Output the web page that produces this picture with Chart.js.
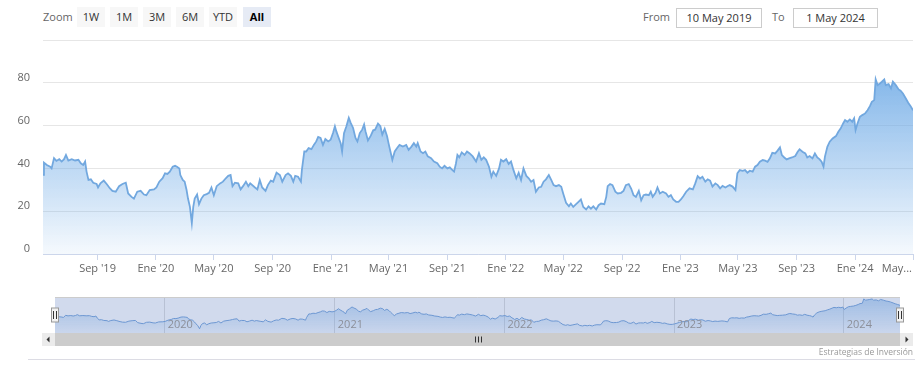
<!DOCTYPE html>
<html>
<head>
<meta charset="utf-8">
<script src="https://cdn.jsdelivr.net/npm/chart.js@4.4.1/dist/chart.umd.min.js"></script>
<style>
  body { margin: 0; width: 920px; height: 375px; background: #fff; position: relative; overflow: hidden; font-family: "Open Sans", sans-serif; }
  .txt { position: absolute; font-size: 11px; color: #666; line-height: 20px; top: 7px; }
  .btn { position: absolute; top: 7px; width: 28px; height: 20px; line-height: 20px; text-align: center; background: #f7f7f7; color: #333; font-size: 11px; }
  .btn.on { background: #e6ebf5; color: #000; font-weight: bold; }
  .box { position: absolute; top: 8px; height: 18px; line-height: 18px; border: 1px solid #ccc; background: #fff; color: #333; font-size: 11px; text-align: center; }
  #main { position: absolute; left: 0; top: 0; }
  #nav { position: absolute; left: 42px; top: 290px; }
  #credits { position: absolute; right: 7px; top: 346px; font-size: 8.5px; color: #999; }
  #rule { position: absolute; left: 28px; top: 359px; width: 887px; height: 1px; background: #dcdce4; }
</style>
</head>
<body>
<div class="txt" style="left:43px">Zoom</div>
<div class="btn" style="left:77px">1W</div>
<div class="btn" style="left:110px">1M</div>
<div class="btn" style="left:143px">3M</div>
<div class="btn" style="left:176px">6M</div>
<div class="btn" style="left:209px">YTD</div>
<div class="btn on" style="left:243px">All</div>
<div class="txt" style="left:643px">From</div>
<div class="box" style="left:676px;width:84px">10 May 2019</div>
<div class="txt" style="left:772px">To</div>
<div class="box" style="left:793px;width:83px">1 May 2024</div>

<canvas id="main" width="920" height="290"></canvas>
<canvas id="nav" width="871" height="57"></canvas>
<div id="credits">Estrategias de Inversión</div>
<div id="rule"></div>

<script>
// days counted from the first close, 10 May 2019
const startDate = '2019-05-10';

const dayOffsets = [
  0, 2, 8, 15, 18, 23, 28, 34, 39, 44,
  48, 53, 60, 67, 74, 79, 84, 88, 91, 95,
  100, 105, 112, 115, 120, 127, 133, 140, 145, 152,
  159, 166, 173, 178, 185, 190, 197, 204, 211, 216,
  223, 232, 237, 243, 250, 255, 260, 265, 271, 276,
  280, 285, 287, 292, 296, 300, 303, 307, 311, 314,
  317, 322, 326, 331, 336, 342, 347, 352, 357, 363,
  370, 376, 382, 387, 392, 396, 401, 408, 413, 418,
  424, 429, 433,
  443, 448, 453, 458, 465, 470, 476, 481, 488, 495,
  500, 507, 512, 518, 523, 527, 533, 539, 541, 546,
  550, 555, 561, 566, 571, 575, 580, 585, 590, 596,
  601, 606, 610, 613, 618, 622, 625, 629, 634, 639,
  643, 648, 653, 657, 662, 667, 671, 674, 679, 685,
  690, 694, 700, 705, 709, 714, 719, 722, 726, 730,
  735, 740, 745, 752, 759, 764, 770, 775, 780, 783,
  789, 794, 799, 804, 811, 817, 824, 829, 834, 839,
  845, 850, 854, 859, 863, 866, 870, 875, 881, 886,
  891, 898, 905, 911, 916, 921, 926, 932, 937, 941,
  947, 953, 957, 962, 968, 973, 978, 983, 989, 994,
  999, 1004, 1010, 1015, 1020, 1025, 1030, 1036, 1041, 1046,
  1051, 1057, 1062, 1067, 1072, 1078, 1083, 1087, 1093, 1099,
  1103, 1108, 1114, 1119, 1124, 1129, 1135, 1140, 1145, 1150,
  1156, 1161, 1166, 1173, 1177, 1180, 1185, 1190, 1196, 1201,
  1208, 1213, 1218, 1224, 1229, 1234, 1239, 1245, 1250, 1255,
  1260, 1266, 1270, 1274, 1280, 1284, 1289, 1295, 1302, 1307,
  1312, 1317, 1323, 1328, 1333, 1338, 1344,
  1351, 1358, 1363, 1368, 1373, 1378, 1384, 1389, 1394, 1399,
  1405, 1410, 1415, 1420, 1426, 1431, 1435, 1441, 1447, 1451,
  1456, 1462, 1467, 1472, 1477, 1483, 1488, 1493, 1498, 1504,
  1509, 1514, 1519, 1524, 1530, 1535, 1540, 1544, 1549, 1554,
  1559, 1565, 1572, 1577, 1581, 1587, 1593, 1597, 1602, 1608,
  1613, 1618, 1623, 1627, 1631, 1634, 1639, 1644, 1650, 1657,
  1662, 1667, 1672, 1676, 1681, 1686, 1691, 1695, 1698, 1702,
  1707, 1712, 1718, 1723, 1728, 1732, 1737, 1740, 1744, 1749,
  1753, 1758, 1761, 1767, 1772, 1776, 1782, 1788, 1792, 1797,
  1803, 1808, 1813, 1818
];

const prices = [
  37, 42.7, 41.6, 40.8, 40, 44.8, 43.5, 44.3, 43.2, 44.3,
  46.3, 43.7, 44.3, 43.7, 44, 42.4, 41.6, 43.2, 38.5, 34.6,
  34.9, 33.3, 32.7, 31.1, 33, 34.3, 32.7, 30.6, 29.5, 29.1,
  31.7, 32.7, 33.3, 28.3, 26.7, 25.9, 29.1, 29.5, 27.8, 27.5,
  29.9, 30.2, 31.1, 33.8, 35.4, 37.7, 37.4, 38.5, 40.8, 41.2,
  40.8, 40, 36.9, 34.6, 33.8, 29.9, 25.9, 22, 14.5, 22,
  25.9, 27.8, 23.3, 25.9, 27.5, 28, 28.6, 31.1, 27.5, 31.7,
  33, 33.8, 35.4, 36.5, 36.9, 31.7, 33.3, 33, 30.2, 31.7,
  33.8, 31.7, 33,
  31.1, 30.2, 34.6, 31.1, 29.5, 32.2, 34.3, 33.8, 38, 36.9,
  33.8, 36.9, 37.7, 36.5, 33.8, 36.5, 36.1, 33.8, 39.3, 47.9,
  47.9, 49.5, 49, 51, 52.6, 54.7, 54.2, 51, 53.7, 52.6,
  53.4, 56.5, 59.7, 57.3, 54.2, 51.8, 47.9, 56.5, 59.7, 63.6,
  61.3, 58.9, 54.2, 52.6, 56.5, 58.1, 60.5, 57.3, 53.1, 55.3,
  57.8, 58.1, 60.9, 59.7, 55.8, 58.5, 55, 51.8, 47.9, 44,
  47.9, 49.5, 51, 50.2, 51, 48.7, 50.2, 51.8, 50.2, 51.8,
  47.9, 47.1, 47.9, 45.6, 44.8, 43.2, 42.4, 40.8, 40, 41.2,
  40, 40.5, 39.5, 38.5, 42.4, 46.3, 45.2, 47.5, 46.3, 47.9,
  47.1, 45.6, 43.2, 47.1, 44, 45.2, 44, 40.8, 36.1, 38.5,
  36.5, 40, 44, 43.2, 44.3, 42.1, 43.2, 39.3, 35.4, 38,
  34.6, 40, 36.5, 35.4, 33.8, 34.6, 29.1, 31.1, 31.4, 33.8,
  34.9, 36.9, 34.6, 32.2, 31.7, 32.2, 31.4, 28.3, 23.9, 22.3,
  23.6, 22, 23.3, 24.4, 25.5, 22, 20.8, 22.3, 21.2, 22.3,
  20.8, 22.8, 23.6, 23.3, 26.7, 31.7, 32.7, 32.2, 29.1, 28.3,
  28.6, 29.5, 32.2, 32.7, 30.6, 27.5, 26.7, 29.5, 25.1, 27.5,
  27.8, 27.5, 29.1, 26.7, 28.6, 31.1, 28.3, 29.1, 28.3, 26.7,
  27.5, 25.5, 24.4, 24.4, 25.5, 27, 29.1,
  30.7, 30.2, 33, 36.4, 35.3, 36.1, 33.8, 34.9, 34.3, 31.5,
  33, 32.2, 30.7, 31.8, 31.1, 31.8, 32.2, 31.5, 29.9, 37.7,
  39.2, 38.9, 39.2, 38, 38.9, 38.5, 40.8, 41.6, 43.1, 43.9,
  43.6, 43.1, 44.7, 47.3, 47, 48.3, 49.8, 46.2, 45.1, 44.2,
  44.7, 45.1, 45.8, 47.8, 48.9, 47.8, 47, 45.1, 45.8, 44.7,
  47, 45.1, 44.2, 43.1, 40.8, 45.5, 50.1, 52.5, 54, 55.1,
  57.1, 58.7, 61, 62.6, 61.8, 62.9, 61.8, 63.4, 57.9, 61,
  64.1, 64.9, 65.7, 67.2, 69.1, 71.1, 71.9, 81.6, 78.9, 79.7,
  80.5, 81.6, 78.9, 79.4, 77.4, 80.5, 78.9, 76.9, 76.3, 75,
  72.7, 70.7, 69.1, 67.2
];

const tickDates = ['2019-09-01', '2020-01-01', '2020-05-01', '2020-09-01', '2021-01-01',
  '2021-05-01', '2021-09-01', '2022-01-01', '2022-05-01', '2022-09-01', '2023-01-01',
  '2023-05-01', '2023-09-01', '2024-01-01', '2024-05-01'];
const tickLabels = ["Sep '19", "Ene '20", "May '20", "Sep '20", "Ene '21", "May '21",
  "Sep '21", "Ene '22", "May '22", "Sep '22", "Ene '23", "May '23", "Sep '23", "Ene '24", "May..."];
const yTicks = [0, 20, 40, 60, 80, 100];
const navYears = ['2020', '2021', '2022', '2023', '2024'];
const endDate = '2024-05-01';

const dayMs = 86400000;
const toDay = s => Math.round((Date.parse(s) - Date.parse(startDate)) / dayMs);
const tickDays = tickDates.map(toDay);
const navDays = navYears.map(y => toDay(y + '-01-01'));
const lastDay = toDay(endDate);
const points = dayOffsets.map((d, i) => ({ x: d, y: prices[i] }));

Chart.defaults.font.family = '"Open Sans", sans-serif';

function areaFill(chart, top, bottom) {
  const area = chart.chartArea;
  if (!area) return 'rgba(110,170,230,0.4)';
  const g = chart.ctx.createLinearGradient(0, area.top, 0, area.bottom);
  g.addColorStop(0, 'rgba(110,170,230,' + top + ')');
  g.addColorStop(1, 'rgba(110,170,230,' + bottom + ')');
  return g;
}

const xLabels = {
  id: 'xLabels',
  afterDraw(chart) {
    const { ctx, chartArea } = chart;
    const x = chart.scales.x;
    ctx.save();
    ctx.font = '11px "Open Sans"';
    ctx.fillStyle = '#666';
    ctx.textAlign = 'center';
    ctx.textBaseline = 'middle';
    tickDays.forEach((d, i) => {
      const w = ctx.measureText(tickLabels[i]).width;
      const px = Math.min(x.getPixelForValue(d), chartArea.right - 1 - w / 2);
      ctx.fillText(tickLabels[i], px, chartArea.bottom + 15);
    });
    ctx.restore();
  }
};

new Chart(document.getElementById('main'), {
  type: 'line',
  data: {
    datasets: [{
      data: points,
      borderColor: '#72a8df',
      borderWidth: 1.8,
      pointRadius: 0,
      tension: 0,
      fill: 'origin',
      backgroundColor: c => areaFill(c.chart, 1, 0.07)
    }]
  },
  options: {
    responsive: false,
    animation: false,
    layout: { padding: { top: 40, right: 7, left: 0, bottom: 0 } },
    plugins: { legend: { display: false }, tooltip: { enabled: false } },
    scales: {
      x: {
        type: 'linear', min: 0, max: lastDay,
        afterBuildTicks: s => { s.ticks = tickDays.map(v => ({ value: v })); },
        afterFit: s => { s.height = 36; s.paddingLeft = 0; s.paddingRight = 0; },
        ticks: { display: false },
        grid: { drawOnChartArea: false, drawTicks: true, tickLength: 6, color: '#ccd6eb' },
        border: { color: '#ccd6eb' }
      },
      y: {
        min: 0, max: 100,
        afterBuildTicks: s => { s.ticks = yTicks.map(v => ({ value: v })); },
        afterFit: s => { s.width = 43; },
        ticks: {
          padding: 13, labelOffset: -5, color: '#666', font: { size: 11 },
          callback: v => (v === 100 ? '' : v)
        },
        grid: { color: '#e6e6e6', drawTicks: false },
        border: { display: false }
      }
    }
  },
  plugins: [xLabels]
});

// navigator + scrollbar drawn over the small chart
const navigatorParts = {
  id: 'navigatorParts',
  afterDatasetsDraw(chart) {
    const { ctx, chartArea: a } = chart;
    const x = chart.scales.x;
    ctx.save();
    ctx.fillStyle = 'rgba(102,133,194,0.3)';
    ctx.fillRect(a.left, a.top, a.right - a.left, a.bottom - a.top);
    ctx.strokeStyle = '#cccccc';
    ctx.lineWidth = 1;
    ctx.beginPath();
    ctx.moveTo(a.left, a.top + 0.5);
    ctx.lineTo(a.right, a.top + 0.5);
    ctx.stroke();

    ctx.font = '11px "Open Sans"';
    ctx.fillStyle = '#8c8f99';
    ctx.textBaseline = 'middle';
    navDays.forEach((d, i) => {
      ctx.fillText(navYears[i], x.getPixelForValue(d) + 3, a.bottom - 8);
    });

    // handles
    [a.left, a.right].forEach(hx => {
      const cx = Math.round(hx) - 0.5;
      ctx.fillStyle = '#f2f2f2';
      ctx.strokeStyle = '#999';
      ctx.fillRect(cx - 3, a.top + 11, 7, 14);
      ctx.strokeRect(cx - 3, a.top + 11, 7, 14);
      ctx.strokeStyle = '#333';
      ctx.beginPath();
      ctx.moveTo(cx - 1, a.top + 14); ctx.lineTo(cx - 1, a.top + 22);
      ctx.moveTo(cx + 2, a.top + 14); ctx.lineTo(cx + 2, a.top + 22);
      ctx.stroke();
    });

    // scrollbar
    const sy = a.bottom, sh = 13, W = chart.width;
    ctx.fillStyle = '#f2f2f2';
    ctx.fillRect(0, sy, W, sh);
    ctx.fillStyle = '#cccccc';
    ctx.fillRect(a.left, sy, a.right - a.left, sh);
    ctx.fillStyle = '#ebebeb';
    ctx.fillRect(0, sy, a.left, sh);
    ctx.fillRect(a.right, sy, W - a.right, sh);
    ctx.fillStyle = '#333';
    const my = sy + sh / 2;
    ctx.beginPath();
    ctx.moveTo(a.left / 2 - 2, my); ctx.lineTo(a.left / 2 + 1, my - 3); ctx.lineTo(a.left / 2 + 1, my + 3);
    ctx.closePath(); ctx.fill();
    const rx = (a.right + W) / 2;
    ctx.beginPath();
    ctx.moveTo(rx + 2, my); ctx.lineTo(rx - 1, my - 3); ctx.lineTo(rx - 1, my + 3);
    ctx.closePath(); ctx.fill();
    const gx = Math.round((a.left + a.right) / 2) + 0.5;
    ctx.strokeStyle = '#333';
    ctx.beginPath();
    [-3, 0, 3].forEach(o => { ctx.moveTo(gx + o, my - 3); ctx.lineTo(gx + o, my + 3); });
    ctx.stroke();
    ctx.restore();
  }
};

new Chart(document.getElementById('nav'), {
  type: 'line',
  data: {
    datasets: [{
      data: points,
      borderColor: '#6f9fd8',
      borderWidth: 1,
      pointRadius: 0,
      tension: 0,
      fill: 'origin',
      backgroundColor: c => areaFill(c.chart, 0.5, 0.08)
    }]
  },
  options: {
    responsive: false,
    animation: false,
    layout: { padding: { top: 7, right: 13, left: 13, bottom: 14 } },
    plugins: { legend: { display: false }, tooltip: { enabled: false } },
    scales: {
      x: {
        type: 'linear', min: 0, max: lastDay,
        afterBuildTicks: s => { s.ticks = navDays.map(v => ({ value: v })); },
        afterFit: s => { s.height = 0; s.paddingLeft = 0; s.paddingRight = 0; },
        ticks: { display: false },
        grid: { drawTicks: false, color: '#dcdcdc' },
        border: { display: false }
      },
      y: { display: false, min: 5, max: 86 }
    }
  },
  plugins: [navigatorParts]
});
</script>
</body>
</html>
